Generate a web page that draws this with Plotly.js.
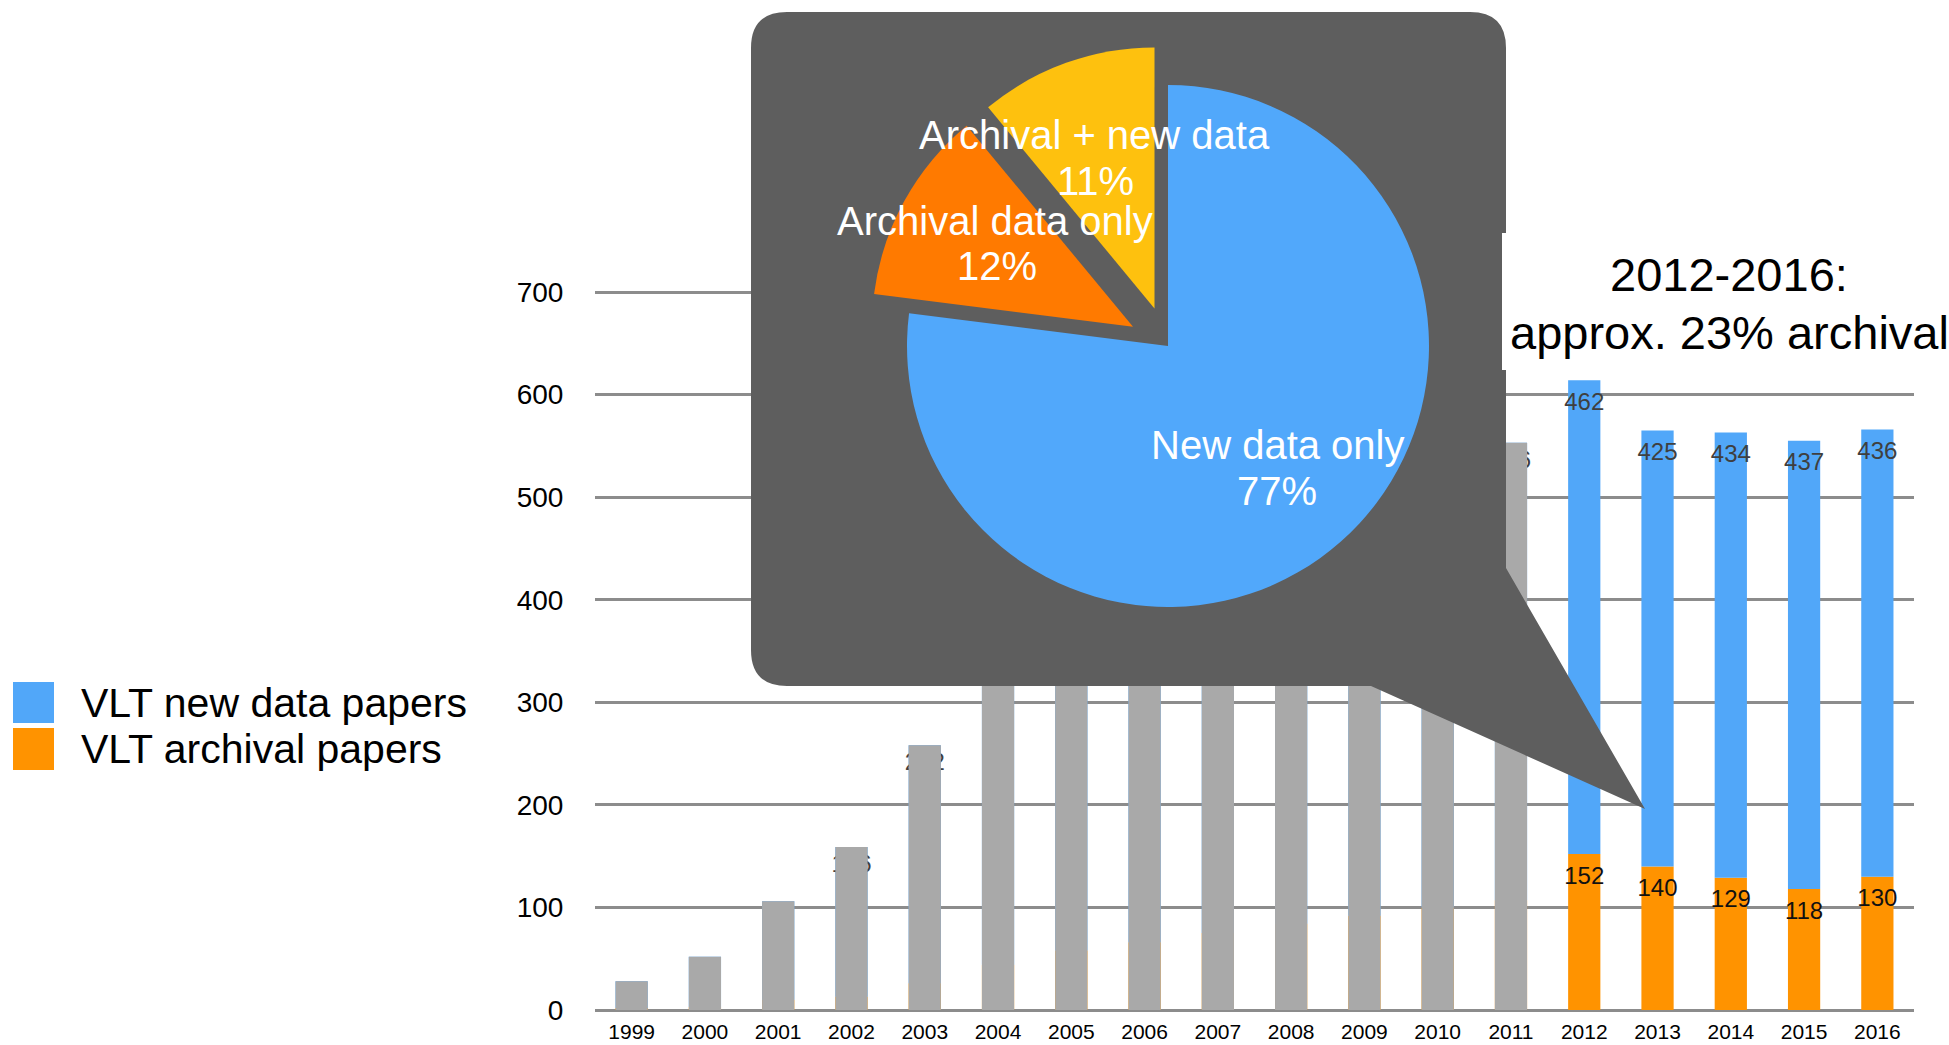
<!DOCTYPE html>
<html>
<head>
<meta charset="utf-8">
<script src="https://cdn.plot.ly/plotly-3.0.1.min.js"></script>
<style>
  html, body { margin: 0; padding: 0; background: #ffffff; }
  #wrap { position: relative; width: 1949px; height: 1045px; overflow: hidden; }
  #bars, #pie { position: absolute; left: 0; top: 0; width: 1949px; height: 1045px; }
  #pie { pointer-events: none; }
</style>
</head>
<body>
<div id="wrap"><div id="bars"></div><div id="pie"></div></div>
<script>
// ---------------- data ----------------
const years = ['1999','2000','2001','2002','2003','2004','2005','2006','2007','2008',
               '2009','2010','2011','2012','2013','2014','2015','2016'];
const archivalPapers = [2, 3, 10, 13, 26, 44, 58, 66, 75, 84, 92, 100, 107, 152, 140, 129, 118, 130];
const newDataPapers  = [26, 49, 96, 146, 232, 296, 330, 352, 374, 392, 410, 426, 446, 462, 425, 434, 437, 436];
const lastGreyYear = 2011;          // earlier years are shown as grey total bars
const yTicks = [0, 100, 200, 300, 400, 500, 600, 700];
const legendNames = ['VLT new data papers', 'VLT archival papers'];
const noteLines = ['2012-2016:', 'approx. 23% archival'];
const pieLabels = ['New data only', 'Archival data only', 'Archival + new data'];
const pieShares = [77, 12, 11];

// ---------------- styles ----------------
const FONT = 'Liberation Sans, Arial, Helvetica, sans-serif';
const C_BLUE = '#51a7f9', C_ORANGE = '#ff9300', C_GREY = '#a9a9a9';
const C_PIE = ['#51a8fb', '#ff7a00', '#fec10e'];
const C_CALLOUT = '#5e5e5e';

// plot area in pixels
const L = 595, R = 1914, T = 10, B = 1010;
const W = R - L, H = B - T;
const fx = x => (x - L) / W;
const fy = y => (B - y) / H;
const yTop = 700 * (B - T) / (1010 - 292);

const isGrey = years.map(y => +y <= lastGreyYear);
const totals = years.map((y, i) => (isGrey[i] ? archivalPapers[i] + newDataPapers[i] : null));
const hiddenBlueText = newDataPapers.map((v, i) => (isGrey[i] ? String(v) : ''));
const orangeLabelY = archivalPapers.map((v, i) => (isGrey[i] ? null : v));
const blueLabelY = newDataPapers.map((v, i) => (isGrey[i] ? null : v + archivalPapers[i]));

const traces = [
  {
    type: 'bar', x: years, y: archivalPapers, base: 0, width: 0.44,
    marker: { color: C_ORANGE, line: { width: 0 } },
    hoverinfo: 'skip', showlegend: false
  },
  {
    type: 'bar', x: years, y: newDataPapers, base: archivalPapers, width: 0.44,
    marker: { color: C_BLUE, line: { width: 0 } },
    text: hiddenBlueText, textposition: 'inside', insidetextanchor: 'end',
    textangle: 0, constraintext: 'none',
    insidetextfont: { family: FONT, size: 24, color: '#3f3f3f' },
    hoverinfo: 'skip', showlegend: false
  },
  {
    type: 'bar', x: years, y: totals, base: 0, width: 0.44,
    marker: { color: C_GREY, line: { width: 0 } },
    hoverinfo: 'skip', showlegend: false
  },
  {
    type: 'scatter', mode: 'markers+text', x: years, y: orangeLabelY,
    text: archivalPapers.map(String), textposition: 'bottom center',
    marker: { size: 17, opacity: 0 },
    textfont: { family: FONT, size: 24, color: '#111111' },
    hoverinfo: 'skip', showlegend: false, cliponaxis: false
  },
  {
    type: 'scatter', mode: 'markers+text', x: years, y: blueLabelY,
    text: newDataPapers.map(String), textposition: 'bottom center',
    marker: { size: 17, opacity: 0 },
    textfont: { family: FONT, size: 24, color: '#3f3f3f' },
    hoverinfo: 'skip', showlegend: false, cliponaxis: false
  }
];

// callout bubble path (pixel geometry -> paper coords)
const bx0 = 751, bx1 = 1506, by0 = 12, by1 = 686, rad = 36;
const tailR = [1506, 568], tip = [1645, 809], tailL = [1371, 686];
const P = (x, y) => `${fx(x)},${fy(y)}`;
const calloutPath =
  `M${P(bx0 + rad, by0)} L${P(bx1 - rad, by0)} Q${P(bx1, by0)} ${P(bx1, by0 + rad)} ` +
  `L${P(tailR[0], tailR[1])} L${P(tip[0], tip[1])} L${P(tailL[0], tailL[1])} ` +
  `L${P(bx0 + rad, by1)} Q${P(bx0, by1)} ${P(bx0, by1 - rad)} ` +
  `L${P(bx0, by0 + rad)} Q${P(bx0, by0)} ${P(bx0 + rad, by0)} Z`;

const shapes = [
  { type: 'path', xref: 'paper', yref: 'paper', path: calloutPath,
    fillcolor: C_CALLOUT, line: { width: 0 }, layer: 'above' },
  { type: 'rect', xref: 'paper', yref: 'paper', x0: fx(1502), x1: fx(1949), y0: fy(233), y1: fy(370),
    fillcolor: '#ffffff', line: { width: 0 }, layer: 'above' },
  { type: 'rect', xref: 'paper', yref: 'paper', x0: fx(13), x1: fx(54), y0: fy(682), y1: fy(723),
    fillcolor: C_BLUE, line: { width: 0 }, layer: 'above' },
  { type: 'rect', xref: 'paper', yref: 'paper', x0: fx(13), x1: fx(54), y0: fy(728), y1: fy(770),
    fillcolor: C_ORANGE, line: { width: 0 }, layer: 'above' }
];

const annotations = [
  { xref: 'paper', yref: 'paper', x: fx(79), y: fy(703), xanchor: 'left', yanchor: 'middle',
    text: legendNames[0], showarrow: false, font: { family: FONT, size: 41, color: '#000' } },
  { xref: 'paper', yref: 'paper', x: fx(79), y: fy(749), xanchor: 'left', yanchor: 'middle',
    text: legendNames[1], showarrow: false, font: { family: FONT, size: 41, color: '#000' } },
  { xref: 'paper', yref: 'paper', x: fx(1729), y: fy(274), xanchor: 'center', yanchor: 'middle',
    text: noteLines[0], showarrow: false, font: { family: FONT, size: 47, color: '#000' } },
  { xref: 'paper', yref: 'paper', x: fx(1729), y: fy(333), xanchor: 'center', yanchor: 'middle',
    text: noteLines[1], showarrow: false, font: { family: FONT, size: 47, color: '#000' } }
];

const layout = {
  width: 1949, height: 1045,
  margin: { l: L, r: 1949 - R, t: T, b: 1045 - B, pad: 0 },
  paper_bgcolor: '#ffffff', plot_bgcolor: '#ffffff',
  barmode: 'overlay', showlegend: false,
  font: { family: FONT, color: '#000' },
  xaxis: {
    type: 'category', range: [-0.5, years.length - 0.5], fixedrange: true,
    showgrid: false, zeroline: false, showline: false,
    ticks: 'outside', ticklen: 3, tickcolor: 'rgba(0,0,0,0)',
    tickfont: { family: FONT, size: 21, color: '#000' }
  },
  yaxis: {
    range: [0, yTop], fixedrange: true,
    tickvals: yTicks, ticktext: yTicks.map(String),
    showgrid: true, gridcolor: '#8c8c8c', gridwidth: 3,
    zeroline: true, zerolinecolor: '#8c8c8c', zerolinewidth: 3, showline: false,
    ticks: 'outside', ticklen: 25, tickcolor: 'rgba(0,0,0,0)',
    tickfont: { family: FONT, size: 28, color: '#000' }
  },
  shapes: shapes,
  annotations: annotations
};

Plotly.newPlot('bars', traces, layout, { staticPlot: true, displayModeBar: false });

// ---------------- pie overlay ----------------
const PW = 1949, PH = 1045;
const pcx = 1168, pcy = 346, pr = 261, pull = 0.153;
const half = pr * (1 + pull);
const gx = x => x / PW, gy = y => 1 - y / PH;

const pieTrace = {
  type: 'pie', labels: pieLabels, values: pieShares, sort: false,
  direction: 'clockwise', rotation: 0, pull: [0, pull, pull],
  marker: { colors: C_PIE, line: { width: 0 } },
  textinfo: 'none', hoverinfo: 'skip', showlegend: false,
  domain: { x: [gx(pcx - half), gx(pcx + half)], y: [gy(pcy + half), gy(pcy - half)] }
};

const pieLabelPos = [
  { name: [1277, 445], pct: [1277, 491] },
  { name: [995, 221], pct: [997, 266] },
  { name: [1094, 135], pct: [1095, 181] }
];
const pieAnn = [];
pieLabels.forEach((lab, i) => {
  const p = pieLabelPos[i];
  pieAnn.push({ xref: 'paper', yref: 'paper', x: gx(p.name[0]), y: gy(p.name[1]),
    xanchor: 'center', yanchor: 'middle', showarrow: false, text: lab,
    font: { family: FONT, size: 40, color: '#ffffff' } });
  pieAnn.push({ xref: 'paper', yref: 'paper', x: gx(p.pct[0]), y: gy(p.pct[1]),
    xanchor: 'center', yanchor: 'middle', showarrow: false, text: pieShares[i] + '%',
    font: { family: FONT, size: 40, color: '#ffffff' } });
});

Plotly.newPlot('pie', [pieTrace], {
  width: PW, height: PH, margin: { l: 0, r: 0, t: 0, b: 0 },
  paper_bgcolor: 'rgba(0,0,0,0)', plot_bgcolor: 'rgba(0,0,0,0)',
  showlegend: false, annotations: pieAnn
}, { staticPlot: true, displayModeBar: false });
</script>
</body>
</html>
